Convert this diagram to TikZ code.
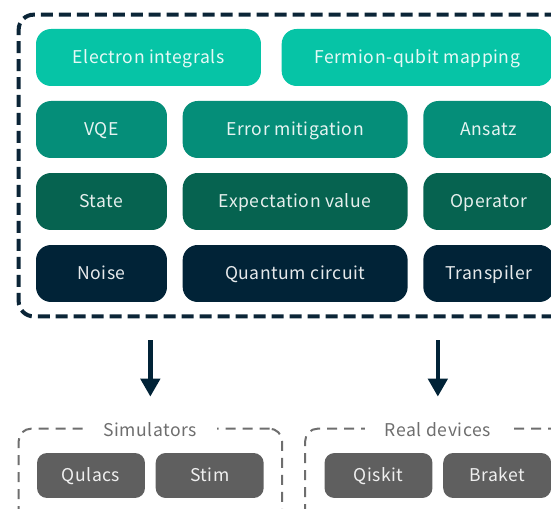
\documentclass[tikz,border=0pt]{standalone}
\usepackage{fontspec}
\setmainfont{Noto Sans CJK JP}
\usetikzlibrary{arrows.meta,positioning,fit}
\definecolor{mint}{HTML}{06C4A6}
\definecolor{teal}{HTML}{058E79}
\definecolor{pine}{HTML}{066350}
\definecolor{navy}{HTML}{012337}
\definecolor{frame}{HTML}{0B2537}
\definecolor{slate}{HTML}{5F5F5F}
\definecolor{greylab}{HTML}{6E6E6E}
\newcommand{\lblfont}{\fontsize{10}{12}\selectfont\addfontfeatures{LetterSpace=3}}

\begin{document}
\begin{tikzpicture}[
  x=0.02cm, y=-0.02cm,
  node distance=0.3cm and 0.3cm,
  blk/.style ={rounded corners=0.3cm, align=center, inner sep=0pt,
               font=\lblfont, text=white, text opacity=0.9,
               text height=0.9em, text depth=0.2em,
               minimum height=1.14cm, minimum width=2.62cm},
  wide/.style={blk, minimum width=4.5cm},
  tool/.style={rounded corners=0.2cm, inner sep=0pt, fill=slate,
               font=\lblfont, text=white, text opacity=0.9,
               text height=0.9em, text depth=0.2em,
               minimum height=0.9cm, minimum width=2.16cm},
  core/.style={draw=frame, line width=0.08cm, rounded corners=0.3cm,
               dash pattern=on 0.24cm off 0.12cm},
  grp/.style ={draw=greylab, line width=0.04cm, rounded corners=0.25cm,
               dash pattern=on 0.2cm off 0.14cm},
  grplab/.style={fill=white, inner xsep=0.4cm, inner ysep=1pt, text=greylab,
               text height=0.9em, text depth=0.2em, font=\lblfont, yshift=-0.05cm},
  arr/.style ={-{Triangle[length=0.36cm, width=0.38cm]}, draw=navy, line width=0.09cm}
]
\useasboundingbox (0,0) rectangle (551,509);
\clip (0,0) rectangle (551,509);

% library layers
\node[wide, fill=mint, minimum width=4.5cm] (elec) at (148.5,57.5) {Electron integrals};
\node[blk,  fill=mint, minimum width=5.42cm, right=0.4cm of elec] (fqm) {Fermion-qubit mapping};

\node[blk,  fill=teal] (vqe) at (101.5,129.5) {VQE};
\node[wide, fill=teal, right=of vqe] (errmit) {Error mitigation};
\node[blk,  fill=teal, right=of errmit] (ansatz) {Ansatz};

\node[blk,  fill=pine] (state) at (101.5,201.5) {State};
\node[wide, fill=pine, right=of state] (expval) {Expectation value};
\node[blk,  fill=pine, right=of expval] (oper) {Operator};

\node[blk,  fill=navy] (noise) at (101.5,273.5) {Noise};
\node[wide, fill=navy, right=of noise] (qcirc) {Quantum circuit};
\node[blk,  fill=navy, right=of qcirc] (transp) {Transpiler};

\node[core, fit=(elec)(fqm)(noise)(transp), inner xsep=0.34cm, inner ysep=0.28cm] (lib) {};

% backends
\node[tool] (qulacs) at (91,475.5) {Qulacs};
\node[tool, right=0.2cm of qulacs] (stim) {Stim};
\node[grp, fit=(qulacs)(stim), inner xsep=0.36cm, inner ysep=0.48cm] (simgrp) {};
\node[grplab] (simlab) at (simgrp.north) {Simulators};

\node[tool] (qiskit) at (378.5,475.5) {Qiskit};
\node[tool, right=0.2cm of qiskit] (braket) {Braket};
\node[grp, fit=(qiskit)(braket), inner xsep=0.38cm, inner ysep=0.48cm] (devgrp) {};
\node[grplab] (devlab) at (devgrp.north) {Real devices};

\draw[arr, shorten <=0.44cm, shorten >=0.62cm] (lib.south -| simgrp.north) -- (simgrp.north);
\draw[arr, shorten <=0.44cm, shorten >=0.62cm] (lib.south -| devgrp.north) -- (devgrp.north);
\end{tikzpicture}
\end{document}
